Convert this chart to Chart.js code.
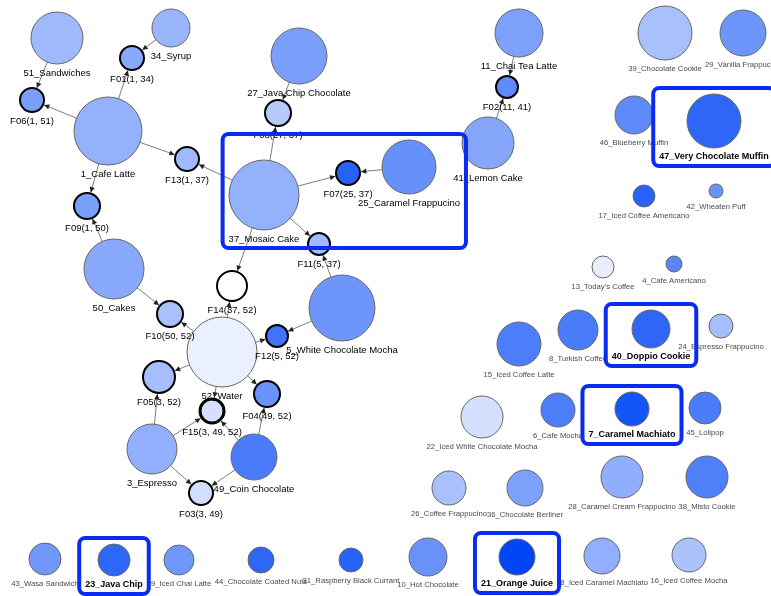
<!DOCTYPE html>
<html>
<head>
<meta charset="utf-8">
<script src="https://cdn.jsdelivr.net/npm/chart.js@4.4.1/dist/chart.umd.min.js"></script>
<style>
  html, body { margin: 0; padding: 0; background: #fff; }
  #graph { display: block; }
</style>
</head>
<body>
<canvas id="graph" width="771" height="596"></canvas>
<script>
// nodes of the network (name, position, size, shade 0..1)
const nodeNames = [
  "51_Sandwiches", "34_Syrup", "F01(1, 34)", "F06(1, 51)", "1_Cafe Latte",
  "F13(1, 37)", "F09(1, 50)", "50_Cakes", "F10(50, 52)", "F14(37, 52)",
  "52_Water", "F12(5, 52)", "5_White Chocolate Mocha", "F11(5, 37)", "F05(3, 52)",
  "F15(3, 49, 52)", "F04(49, 52)", "3_Espresso", "49_Coin Chocolate", "F03(3, 49)",
  "27_Java Chip Chocolate", "F08(27, 37)", "37_Mosaic Cake", "F07(25, 37)", "25_Caramel Frappucino",
  "11_Chai Tea Latte", "F02(11, 41)", "41_Lemon Cake",
  "39_Chocolate Cookie", "29_Vanilla Frappucino", "46_Blueberry Muffin", "47_Very Chocolate Muffin",
  "17_Iced Coffee Americano", "42_Wheaten Puff", "13_Today's Coffee", "4_Cafe Americano",
  "15_Iced Coffee Latte", "8_Turkish Coffee", "40_Doppio Cookie", "24_Espresso Frappucino",
  "22_Iced White Chocolate Mocha", "6_Cafe Mocha", "7_Caramel Machiato", "45_Lolipop",
  "26_Coffee Frappucino", "36_Chocolate Berliner", "28_Caramel Cream Frappucino", "38_Misto Cookie",
  "43_Wasa Sandwich", "23_Java Chip", "19_Iced Chai Latte", "44_Chocolate Coated Nuts",
  "31_Raspberry Black Currant", "10_Hot Chocolate", "21_Orange Juice", "18_Iced Caramel Machiato",
  "16_Iced Coffee Mocha"
];
const nodeX = [
  57, 171, 132, 32, 108, 187, 87, 114, 170, 232,
  222, 277, 342, 319, 159, 212, 267, 152, 254, 201,
  299, 278, 264, 348, 409, 519, 507, 488,
  665, 743, 634, 714, 644, 716, 603, 674,
  519, 578, 651, 721, 482, 558, 632, 705,
  449, 525, 622, 707,
  45, 114, 179, 261, 351, 428, 517, 602, 689
];
const nodeY = [
  38, 28, 58, 100, 131, 159, 206, 269, 314, 286,
  352, 336, 308, 244, 377, 411, 394, 449, 457, 493,
  56, 113, 195, 173, 167, 33, 87, 143,
  33, 33, 115, 121, 196, 191, 267, 264,
  344, 330, 329, 326, 417, 410, 409, 408,
  488, 488, 477, 477,
  559, 560, 560, 560, 560, 557, 557, 556, 555
];
const nodeSize = [
  26, 19, 12, 12, 34, 12, 13, 30, 13, 15,
  35, 11, 33, 11, 16, 12, 13, 25, 23, 12,
  28, 13, 35, 12, 27, 24, 11, 26,
  27, 23, 19, 27, 11, 7, 11, 8,
  22, 20, 19, 12, 21, 17, 17, 16,
  17, 18, 21, 21,
  16, 16, 15, 13, 12, 19, 18, 18, 17
];
const nodeShade = [
  0.38, 0.40, 0.47, 0.52, 0.42, 0.38, 0.52, 0.47, 0.34, 0.00,
  0.08, 0.75, 0.57, 0.37, 0.35, 0.17, 0.59, 0.43, 0.71, 0.18,
  0.52, 0.29, 0.42, 0.85, 0.60, 0.51, 0.63, 0.48,
  0.34, 0.57, 0.63, 0.82, 0.85, 0.59, 0.09, 0.65,
  0.70, 0.71, 0.82, 0.35, 0.17, 0.70, 0.92, 0.71,
  0.34, 0.51, 0.44, 0.69,
  0.56, 0.82, 0.56, 0.82, 0.85, 0.59, 1.00, 0.43, 0.33
];
// directed links: [source, target]
const links = [
  ["51_Sandwiches", "F06(1, 51)"], ["34_Syrup", "F01(1, 34)"],
  ["1_Cafe Latte", "F01(1, 34)"], ["1_Cafe Latte", "F06(1, 51)"],
  ["1_Cafe Latte", "F13(1, 37)"], ["1_Cafe Latte", "F09(1, 50)"],
  ["37_Mosaic Cake", "F13(1, 37)"], ["37_Mosaic Cake", "F08(27, 37)"],
  ["37_Mosaic Cake", "F07(25, 37)"], ["37_Mosaic Cake", "F11(5, 37)"],
  ["37_Mosaic Cake", "F14(37, 52)"], ["27_Java Chip Chocolate", "F08(27, 37)"],
  ["25_Caramel Frappucino", "F07(25, 37)"], ["11_Chai Tea Latte", "F02(11, 41)"],
  ["41_Lemon Cake", "F02(11, 41)"], ["5_White Chocolate Mocha", "F11(5, 37)"],
  ["5_White Chocolate Mocha", "F12(5, 52)"], ["50_Cakes", "F09(1, 50)"],
  ["50_Cakes", "F10(50, 52)"], ["52_Water", "F14(37, 52)"],
  ["52_Water", "F10(50, 52)"], ["52_Water", "F12(5, 52)"],
  ["52_Water", "F05(3, 52)"], ["52_Water", "F15(3, 49, 52)"],
  ["52_Water", "F04(49, 52)"], ["3_Espresso", "F05(3, 52)"],
  ["3_Espresso", "F15(3, 49, 52)"], ["3_Espresso", "F03(3, 49)"],
  ["49_Coin Chocolate", "F04(49, 52)"], ["49_Coin Chocolate", "F15(3, 49, 52)"],
  ["49_Coin Chocolate", "F03(3, 49)"]
];
// highlighted groups (blue frames)
const highlighted = [
  ["37_Mosaic Cake", "F07(25, 37)", "25_Caramel Frappucino"],
  ["47_Very Chocolate Muffin"], ["40_Doppio Cookie"], ["7_Caramel Machiato"],
  ["23_Java Chip"], ["21_Orange Juice"]
];

function shadeColor(t) {
  const r = Math.round(255 * (1 - t));
  const g = Math.round(255 - 185 * t);
  const b = Math.round(255 - 8 * t);
  return "rgb(" + r + "," + g + "," + b + ")";
}

const idx = {};
nodeNames.forEach(function(n, i) { idx[n] = i; });
const inDegree = nodeNames.map(function() { return 0; });
const linked = nodeNames.map(function() { return false; });
links.forEach(function(l) {
  inDegree[idx[l[1]]]++;
  linked[idx[l[0]]] = true;
  linked[idx[l[1]]] = true;
});
const framed = {};
highlighted.forEach(function(g) { if (g.length == 1) framed[g[0]] = true; });

function isFactor(i) { return /^F\d/.test(nodeNames[i]); }
function borderW(i) { return isFactor(i) ? inDegree[i] : 1; }

function labelFont(i) {
  if (framed[nodeNames[i]]) return "bold 9px 'Liberation Sans', Arial, sans-serif";
  if (linked[i]) return "9.5px 'Liberation Sans', Arial, sans-serif";
  return "7.7px 'Liberation Sans', Arial, sans-serif";
}
function labelColor(i) {
  return (linked[i] || framed[nodeNames[i]]) ? "#000" : "#4a4a4a";
}

const edgePlugin = {
  id: "edges",
  beforeDatasetsDraw: function(chart) {
    const ctx = chart.ctx;
    const sx = chart.scales.x, sy = chart.scales.y;
    ctx.save();
    links.forEach(function(l) {
      const a = idx[l[0]], b = idx[l[1]];
      const x1 = sx.getPixelForValue(nodeX[a]), y1 = sy.getPixelForValue(nodeY[a]);
      const x2 = sx.getPixelForValue(nodeX[b]), y2 = sy.getPixelForValue(nodeY[b]);
      const ang = Math.atan2(y2 - y1, x2 - x1);
      const rr = nodeSize[b] + borderW(b) / 2;
      const ex = x2 - Math.cos(ang) * rr, ey = y2 - Math.sin(ang) * rr;
      ctx.strokeStyle = "#5a5a5a";
      ctx.lineWidth = 0.8;
      ctx.beginPath();
      ctx.moveTo(x1, y1);
      ctx.lineTo(ex, ey);
      ctx.stroke();
      // arrow head
      ctx.fillStyle = "#222";
      ctx.beginPath();
      ctx.moveTo(ex, ey);
      ctx.lineTo(ex - Math.cos(ang - 0.45) * 6, ey - Math.sin(ang - 0.45) * 6);
      ctx.lineTo(ex - Math.cos(ang + 0.45) * 6, ey - Math.sin(ang + 0.45) * 6);
      ctx.closePath();
      ctx.fill();
    });
    ctx.restore();
  }
};

const labelPlugin = {
  id: "labels",
  afterDatasetsDraw: function(chart) {
    const ctx = chart.ctx;
    const sx = chart.scales.x, sy = chart.scales.y;
    ctx.save();
    ctx.textAlign = "center";
    ctx.textBaseline = "middle";
    nodeNames.forEach(function(n, i) {
      ctx.font = labelFont(i);
      ctx.fillStyle = labelColor(i);
      ctx.fillText(n, sx.getPixelForValue(nodeX[i]), sy.getPixelForValue(nodeY[i]) + nodeSize[i] + 9);
    });
    ctx.restore();
  }
};

const framePlugin = {
  id: "frames",
  afterDraw: function(chart) {
    const ctx = chart.ctx;
    const sx = chart.scales.x, sy = chart.scales.y;
    ctx.save();
    highlighted.forEach(function(g) {
      let x0 = Infinity, y0 = Infinity, x1 = -Infinity, y1 = -Infinity;
      g.forEach(function(n) {
        const i = idx[n];
        const px = sx.getPixelForValue(nodeX[i]), py = sy.getPixelForValue(nodeY[i]);
        const r = nodeSize[i];
        ctx.font = labelFont(i);
        const w = ctx.measureText(n).width;
        const ly = py + r + 9;
        x0 = Math.min(x0, px - r, px - w / 2);
        x1 = Math.max(x1, px + r, px + w / 2);
        y0 = Math.min(y0, py - r);
        y1 = Math.max(y1, ly + 9);
      });
      const pad = 6;
      ctx.strokeStyle = "#0a2cf2";
      ctx.lineWidth = 4;
      ctx.beginPath();
      ctx.roundRect(x0 - pad, y0 - pad, x1 - x0 + 2 * pad, y1 - y0 + pad, 6);
      ctx.stroke();
    });
    ctx.restore();
  }
};

const ctx = document.getElementById("graph").getContext("2d");
const graphChart = new Chart(ctx, {
  type: "bubble",
  data: {
    datasets: [{
      data: nodeNames.map(function(n, i) { return { x: nodeX[i], y: nodeY[i], r: nodeSize[i] }; }),
      backgroundColor: nodeShade.map(shadeColor),
      borderColor: nodeNames.map(function(n, i) { return isFactor(i) ? "#000" : "#666"; }),
      borderWidth: nodeNames.map(function(n, i) { return borderW(i); }),
      hoverRadius: 0,
      hoverBorderWidth: nodeNames.map(function(n, i) { return borderW(i); }),
      clip: false
    }]
  },
  options: {
    responsive: false,
    devicePixelRatio: 1,
    animation: false,
    events: [],
    layout: { padding: 0, autoPadding: false },
    plugins: { legend: { display: false }, tooltip: { enabled: false } },
    scales: {
      x: { type: "linear", min: 0, max: 771, display: false },
      y: { type: "linear", min: 0, max: 596, reverse: true, display: false }
    }
  },
  plugins: [edgePlugin, labelPlugin, framePlugin]
});
</script>
</body>
</html>
